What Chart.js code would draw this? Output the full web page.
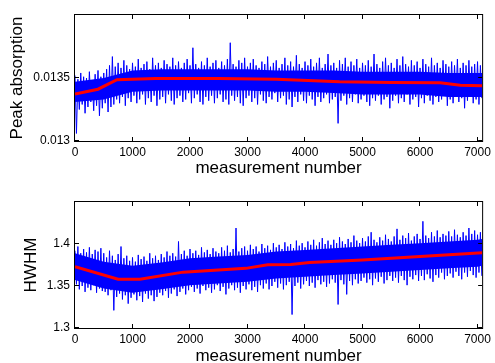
<!DOCTYPE html>
<html>
<head>
<meta charset="utf-8">
<script src="https://cdn.jsdelivr.net/npm/chart.js@4"></script>
<style>
  html, body { margin: 0; padding: 0; background: #fff; overflow: hidden; }
  body { width: 495px; height: 363px; position: relative; }
  canvas { position: absolute; left: 0; }
  #peak-chart { top: 0; }
  #hwhm-chart { top: 185px; }
</style>
</head>
<body>
<canvas id="peak-chart" width="495" height="185"></canvas>
<canvas id="hwhm-chart" width="495" height="190"></canvas>
<script>
// x positions of the dense band edges (measurement number)
const coreX = [0, 500, 1000, 1500, 2000, 2500, 3000, 3500, 4000, 4500, 5000, 5500, 6000, 6500, 7000, 7080];
// spikes: highs sit at 0,50,100..., lows half a step later
const spikeStep = 50;

// --- Peak absorption ---
const peakCoreHi = [0.01347, 0.01350, 0.01356, 0.01357, 0.01357, 0.01357, 0.01357, 0.01356, 0.01356, 0.01356, 0.01355, 0.01355, 0.01355, 0.01354, 0.01354, 0.01354];
const peakCoreLo = [0.01331, 0.01333, 0.01339, 0.01340, 0.01340, 0.01340, 0.01340, 0.01339, 0.01339, 0.01338, 0.01337, 0.01337, 0.01337, 0.01335, 0.01335, 0.01335];
const peakSpikeHi = [
  0.01352, 0.01349, 0.01354, 0.01351, 0.01350, 0.01355, 0.01348, 0.01353, 0.01356, 0.01351,
  0.01354, 0.01357, 0.01360, 0.01367, 0.01359, 0.01362, 0.01358, 0.01364, 0.01360, 0.01357,
  0.01362, 0.01359, 0.01365, 0.01358, 0.01361, 0.01363, 0.01357, 0.01366, 0.01360, 0.01362,
  0.01358, 0.01364, 0.01361, 0.01359, 0.01366, 0.01360, 0.01363, 0.01358, 0.01362, 0.01365,
  0.01360, 0.01374, 0.01361, 0.01358, 0.01363, 0.01360, 0.01366, 0.01359, 0.01362, 0.01364,
  0.01358, 0.01363, 0.01360, 0.01365, 0.01378, 0.01361, 0.01359, 0.01364, 0.01362, 0.01366,
  0.01359, 0.01362, 0.01365, 0.01360, 0.01358, 0.01363, 0.01361, 0.01367, 0.01359, 0.01362,
  0.01364, 0.01358, 0.01361, 0.01366, 0.01360, 0.01363, 0.01359, 0.01368, 0.01361, 0.01358,
  0.01363, 0.01360, 0.01365, 0.01359, 0.01362, 0.01366, 0.01358, 0.01361, 0.01369, 0.01360,
  0.01362, 0.01358, 0.01364, 0.01361, 0.01366, 0.01359, 0.01363, 0.01360, 0.01365, 0.01358,
  0.01362, 0.01360, 0.01364, 0.01359, 0.01369, 0.01361, 0.01358, 0.01363, 0.01366, 0.01360,
  0.01362, 0.01358, 0.01365, 0.01360, 0.01367, 0.01361, 0.01359, 0.01364, 0.01360, 0.01363,
  0.01358, 0.01365, 0.01361, 0.01359, 0.01366, 0.01360, 0.01362, 0.01358, 0.01364, 0.01361,
  0.01359, 0.01363, 0.01360, 0.01365, 0.01358, 0.01362, 0.01360, 0.01364, 0.01359, 0.01361,
  0.01363, 0.01360
];
const peakSpikeLo = [
  0.01306, 0.01325, 0.01329, 0.01322, 0.01327, 0.01331, 0.01324, 0.01328, 0.01320, 0.01326,
  0.01330, 0.01323, 0.01327, 0.01329, 0.01333, 0.01330, 0.01335, 0.01328, 0.01334, 0.01331,
  0.01336, 0.01330, 0.01333, 0.01337, 0.01329, 0.01334, 0.01331, 0.01336, 0.01328, 0.01333,
  0.01335, 0.01330, 0.01337, 0.01332, 0.01329, 0.01334, 0.01336, 0.01331, 0.01333, 0.01338,
  0.01330, 0.01334, 0.01337, 0.01331, 0.01329, 0.01335, 0.01332, 0.01336, 0.01330, 0.01334,
  0.01337, 0.01331, 0.01333, 0.01329, 0.01336, 0.01332, 0.01335, 0.01330, 0.01328, 0.01334,
  0.01336, 0.01331, 0.01334, 0.01329, 0.01337, 0.01332, 0.01330, 0.01335, 0.01333, 0.01338,
  0.01331, 0.01334, 0.01336, 0.01329, 0.01333, 0.01327, 0.01335, 0.01331, 0.01337, 0.01332,
  0.01330, 0.01336, 0.01333, 0.01328, 0.01335, 0.01331, 0.01334, 0.01337, 0.01330, 0.01333,
  0.01335, 0.01314, 0.01332, 0.01336, 0.01329, 0.01334, 0.01331, 0.01337, 0.01330, 0.01333,
  0.01336, 0.01331, 0.01328, 0.01334, 0.01332, 0.01336, 0.01329, 0.01333, 0.01335, 0.01326,
  0.01332, 0.01336, 0.01330, 0.01334, 0.01331, 0.01337, 0.01329, 0.01333, 0.01335, 0.01327,
  0.01334, 0.01330, 0.01336, 0.01332, 0.01329, 0.01335, 0.01331, 0.01333, 0.01336, 0.01328,
  0.01333, 0.01330, 0.01335, 0.01331, 0.01334, 0.01326, 0.01332, 0.01336, 0.01330, 0.01333,
  0.01329, 0.01334
];
const peakTrendX = [0, 400, 730, 1400, 2500, 3500, 4600, 5500, 6350, 6700, 7080];
const peakTrend = [0.013373, 0.013411, 0.013487, 0.013496, 0.013497, 0.013490, 0.013470, 0.013465, 0.013463, 0.013443, 0.013438];
const peakTicksY = [0.013, 0.0135];

// --- HWHM ---
const hwhmCoreHi = [1.389, 1.379, 1.374, 1.378, 1.383, 1.385, 1.387, 1.391, 1.393, 1.395, 1.397, 1.399, 1.401, 1.403, 1.405, 1.406];
const hwhmCoreLo = [1.357, 1.347, 1.342, 1.346, 1.351, 1.353, 1.355, 1.359, 1.361, 1.363, 1.365, 1.367, 1.369, 1.371, 1.373, 1.374];
const hwhmSpikeHi = [
  1.392, 1.397, 1.389, 1.394, 1.390, 1.396, 1.388, 1.393, 1.391, 1.395,
  1.389, 1.384, 1.392, 1.386, 1.381, 1.388, 1.397, 1.383, 1.386, 1.380,
  1.384, 1.379, 1.387, 1.382, 1.385, 1.380, 1.389, 1.383, 1.386, 1.381,
  1.388, 1.384, 1.391, 1.386, 1.389, 1.385, 1.403, 1.388, 1.392, 1.386,
  1.394, 1.389, 1.392, 1.387, 1.396, 1.390, 1.393, 1.388, 1.395, 1.391,
  1.389, 1.396, 1.392, 1.398, 1.390, 1.394, 1.419, 1.391, 1.395, 1.397,
  1.392, 1.399, 1.394, 1.397, 1.391, 1.400, 1.395, 1.398, 1.393, 1.401,
  1.396, 1.399, 1.394, 1.402, 1.397, 1.400, 1.395, 1.404, 1.398, 1.401,
  1.396, 1.403, 1.399, 1.405, 1.398, 1.402, 1.407, 1.400, 1.404, 1.399,
  1.405, 1.401, 1.408, 1.403, 1.400, 1.406, 1.402, 1.410, 1.404, 1.401,
  1.407, 1.403, 1.409, 1.414, 1.405, 1.402, 1.408, 1.404, 1.411, 1.406,
  1.403, 1.409, 1.418, 1.405, 1.410, 1.407, 1.413, 1.404, 1.409, 1.412,
  1.406, 1.427, 1.410, 1.407, 1.414, 1.409, 1.416, 1.408, 1.412, 1.410,
  1.415, 1.409, 1.417, 1.411, 1.408, 1.414, 1.410, 1.419, 1.412, 1.416,
  1.411, 1.414
];
const hwhmSpikeLo = [
  1.352, 1.346, 1.350, 1.343, 1.348, 1.345, 1.351, 1.342, 1.347, 1.344,
  1.343, 1.339, 1.345, 1.321, 1.337, 1.341, 1.334, 1.339, 1.329, 1.336,
  1.340, 1.333, 1.338, 1.331, 1.341, 1.335, 1.339, 1.332, 1.337, 1.342,
  1.339, 1.344, 1.336, 1.341, 1.346, 1.338, 1.343, 1.347, 1.340, 1.345,
  1.349, 1.343, 1.347, 1.341, 1.350, 1.345, 1.348, 1.342, 1.346, 1.351,
  1.344, 1.349, 1.340, 1.347, 1.351, 1.345, 1.348, 1.342, 1.350, 1.346,
  1.352, 1.345, 1.349, 1.343, 1.351, 1.347, 1.353, 1.346, 1.350, 1.355,
  1.348, 1.353, 1.346, 1.351, 1.355, 1.316, 1.350, 1.354, 1.347, 1.352,
  1.356, 1.350, 1.354, 1.348, 1.357, 1.352, 1.355, 1.349, 1.353, 1.358,
  1.354, 1.328, 1.357, 1.352, 1.340, 1.356, 1.351, 1.358, 1.353, 1.356,
  1.360, 1.354, 1.358, 1.351, 1.359, 1.355, 1.361, 1.353, 1.357, 1.362,
  1.356, 1.360, 1.354, 1.362, 1.357, 1.351, 1.361, 1.358, 1.363, 1.356,
  1.362, 1.357, 1.364, 1.359, 1.355, 1.363, 1.360, 1.366, 1.358, 1.362,
  1.365, 1.360, 1.367, 1.362, 1.358, 1.366, 1.361, 1.368, 1.363, 1.360,
  1.366, 1.362
];
const hwhmTrendX = [0, 750, 1130, 1880, 2970, 3350, 3750, 4080, 5000, 6000, 7080];
const hwhmTrend = [1.373, 1.358, 1.358, 1.3665, 1.371, 1.3752, 1.3755, 1.378, 1.381, 1.385, 1.3897];
const hwhmTicksY = [1.3, 1.35, 1.4];

const xTicks = [0, 1000, 2000, 3000, 4000, 5000, 6000, 7000];
const xMax = 7080;

Chart.defaults.font.family = '"Liberation Sans", Arial, sans-serif';
Chart.defaults.color = '#000';

const toPoints = (xs, ys) => ys.map((y, i) => ({ x: xs[i], y }));

// interleave high and low readings into one noisy trace
function zigzag(hi, lo) {
  const pts = [];
  hi.forEach((v, i) => {
    pts.push({ x: i * spikeStep, y: v });
    if (lo[i] !== undefined) pts.push({ x: i * spikeStep + spikeStep / 2, y: lo[i] });
  });
  return pts;
}

// matlab-ish box with inward ticks
const boxTicks = {
  id: 'boxTicks',
  afterDatasetsDraw(chart) {
    const { ctx, chartArea: a, scales } = chart;
    const len = 4;
    ctx.save();
    ctx.strokeStyle = '#000';
    ctx.lineWidth = 1;
    ctx.beginPath();
    scales.x.ticks.forEach(t => {
      const px = Math.round(scales.x.getPixelForValue(t.value)) - 0.5;
      ctx.moveTo(px, a.bottom); ctx.lineTo(px, a.bottom - len);
      ctx.moveTo(px, a.top); ctx.lineTo(px, a.top + len);
    });
    scales.y.ticks.forEach(t => {
      const py = Math.round(scales.y.getPixelForValue(t.value)) - 0.5;
      ctx.moveTo(a.left, py); ctx.lineTo(a.left + len, py);
      ctx.moveTo(a.right, py); ctx.lineTo(a.right - len, py);
    });
    ctx.stroke();
    ctx.strokeRect(a.left - 0.5, a.top - 0.5, a.right - a.left + 1, a.bottom - a.top + 1);
    ctx.restore();
  }
};

function makePanel(canvasId, opt) {
  const ctx = document.getElementById(canvasId).getContext('2d');
  return new Chart(ctx, {
    type: 'line',
    data: {
      datasets: [
        { data: toPoints(opt.trendX, opt.trend), borderColor: '#ff0000', borderWidth: 3, order: 0 },
        { data: zigzag(opt.spikeHi, opt.spikeLo), borderColor: '#0000ff', borderWidth: 1, order: 1 },
        { data: toPoints(coreX, opt.coreHi), borderWidth: 0, borderColor: '#0000ff', order: 2 },
        { data: toPoints(coreX, opt.coreLo), borderWidth: 0, borderColor: '#0000ff',
          backgroundColor: '#0000ff', fill: '-1', order: 3 }
      ]
    },
    options: {
      responsive: false,
      animation: false,
      events: [],
      layout: { padding: { top: opt.padTop, right: 11, left: 0, bottom: 0 } },
      elements: { point: { radius: 0 }, line: { tension: 0 } },
      scales: {
        x: {
          type: 'linear',
          min: 0,
          max: xMax,
          afterFit: (s) => { s.height = opt.xAxisHeight; },
          afterBuildTicks: (s) => { s.ticks = xTicks.map(v => ({ value: v })); },
          ticks: { font: { size: 12 }, padding: 4, maxRotation: 0, callback: (v) => String(v) },
          grid: { display: false, drawTicks: false },
          border: { display: false },
          title: { display: true, text: 'measurement number', font: { size: 17 }, padding: { top: 0, bottom: opt.xTitlePad } }
        },
        y: {
          min: opt.yMin,
          max: opt.yMax,
          afterFit: (s) => { s.width = 75; },
          afterBuildTicks: (s) => { s.ticks = opt.yTicks.map(v => ({ value: v })); },
          ticks: { font: { size: 12 }, padding: 5, callback: (v) => String(v) },
          grid: { display: false, drawTicks: false },
          border: { display: false },
          title: { display: true, text: opt.yTitle, font: { size: 17 }, padding: { top: opt.yTitlePad, bottom: 0 } }
        }
      },
      plugins: { legend: { display: false }, tooltip: { enabled: false } }
    },
    plugins: [boxTicks]
  });
}

makePanel('peak-chart', {
  trendX: peakTrendX, trend: peakTrend,
  spikeHi: peakSpikeHi, spikeLo: peakSpikeLo,
  coreHi: peakCoreHi, coreLo: peakCoreLo,
  yMin: 0.013, yMax: 0.014, yTicks: peakTicksY,
  yTitle: 'Peak absorption', yTitlePad: 7,
  padTop: 15, xAxisHeight: 44, xTitlePad: 6
});

makePanel('hwhm-chart', {
  trendX: hwhmTrendX, trend: hwhmTrend,
  spikeHi: hwhmSpikeHi, spikeLo: hwhmSpikeLo,
  coreHi: hwhmCoreHi, coreLo: hwhmCoreLo,
  yMin: 1.3, yMax: 1.45, yTicks: hwhmTicksY,
  yTitle: 'HWHM', yTitlePad: 21,
  padTop: 17, xAxisHeight: 47, xTitlePad: 8
});
</script>
</body>
</html>
